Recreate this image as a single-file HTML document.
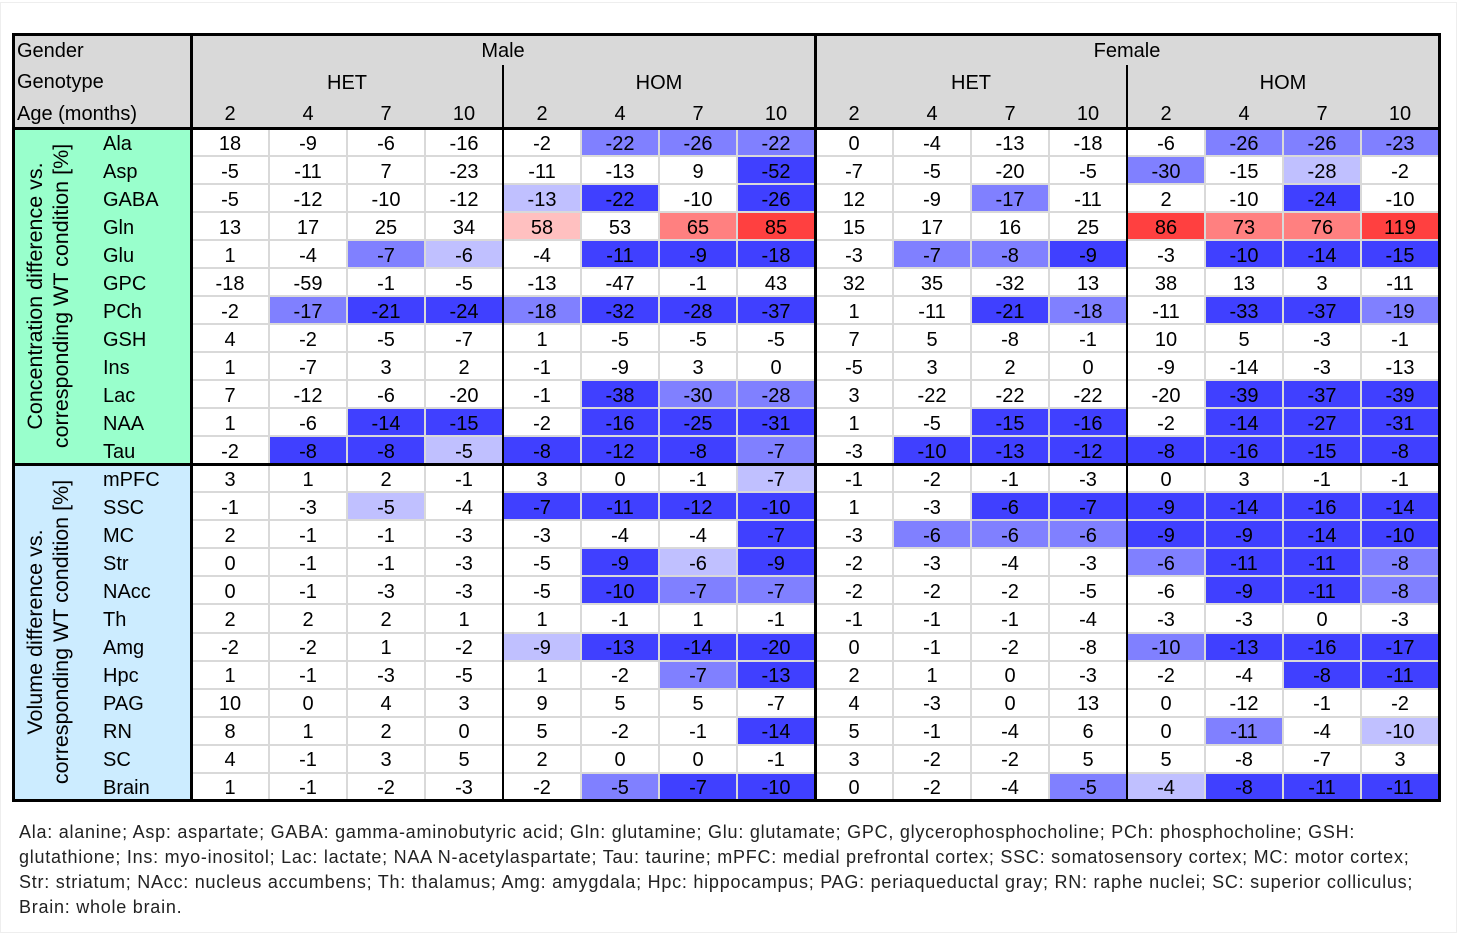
<!DOCTYPE html>
<html><head><meta charset="utf-8"><style>
body{margin:0;width:1459px;height:935px;background:#fff;position:relative;overflow:hidden;font-family:"Liberation Sans",sans-serif}
.c{position:absolute;box-sizing:border-box;display:flex;align-items:center;justify-content:center;font-size:20px;color:#000;padding-top:4px}
.ln{position:absolute;background:#000}
.gl{position:absolute;background:#d9d9d9}
#foot{position:absolute;left:19px;top:820px;font-size:18px;letter-spacing:0.75px;line-height:25px;color:#222;white-space:nowrap}
</style></head><body>
<div style="position:absolute;left:0;top:2px;width:1455px;height:929px;border:1px solid #eee"></div>
<div id="tbl"></div>
<div id="foot">Ala: alanine; Asp: aspartate; GABA: gamma-aminobutyric acid; Gln: glutamine; Glu: glutamate; GPC, glycerophosphocholine; PCh: phosphocholine; GSH:<br>glutathione; Ins: myo-inositol; Lac: lactate; NAA N-acetylaspartate; Tau: taurine; mPFC: medial prefrontal cortex; SSC: somatosensory cortex; MC: motor cortex;<br>Str: striatum; NAcc: nucleus accumbens; Th: thalamus; Amg: amygdala; Hpc: hippocampus; PAG: periaqueductal gray; RN: raphe nuclei; SC: superior colliculus;<br>Brain: whole brain.</div>
<script>
const ages=["2","4","7","10"];
const concLabels=["Ala","Asp","GABA","Gln","Glu","GPC","PCh","GSH","Ins","Lac","NAA","Tau"];
const volLabels=["mPFC","SSC","MC","Str","NAcc","Th","Amg","Hpc","PAG","RN","SC","Brain"];
const concValues=[
[18,-9,-6,-16,-2,-22,-26,-22,0,-4,-13,-18,-6,-26,-26,-23],
[-5,-11,7,-23,-11,-13,9,-52,-7,-5,-20,-5,-30,-15,-28,-2],
[-5,-12,-10,-12,-13,-22,-10,-26,12,-9,-17,-11,2,-10,-24,-10],
[13,17,25,34,58,53,65,85,15,17,16,25,86,73,76,119],
[1,-4,-7,-6,-4,-11,-9,-18,-3,-7,-8,-9,-3,-10,-14,-15],
[-18,-59,-1,-5,-13,-47,-1,43,32,35,-32,13,38,13,3,-11],
[-2,-17,-21,-24,-18,-32,-28,-37,1,-11,-21,-18,-11,-33,-37,-19],
[4,-2,-5,-7,1,-5,-5,-5,7,5,-8,-1,10,5,-3,-1],
[1,-7,3,2,-1,-9,3,0,-5,3,2,0,-9,-14,-3,-13],
[7,-12,-6,-20,-1,-38,-30,-28,3,-22,-22,-22,-20,-39,-37,-39],
[1,-6,-14,-15,-2,-16,-25,-31,1,-5,-15,-16,-2,-14,-27,-31],
[-2,-8,-8,-5,-8,-12,-8,-7,-3,-10,-13,-12,-8,-16,-15,-8]];
const concSig=[".....bbb.....bbb",".......c....b.a.","....ac.c..b...c.","....x.yz....zyyz","..ba.ccc.bbc.ccc","................",".bccbccc..cb.ccb","................","................",".....cbb.....ccc","..cc.ccc..cc.ccc",".ccacccb.ccccccc"];
const volValues=[
[3,1,2,-1,3,0,-1,-7,-1,-2,-1,-3,0,3,-1,-1],
[-1,-3,-5,-4,-7,-11,-12,-10,1,-3,-6,-7,-9,-14,-16,-14],
[2,-1,-1,-3,-3,-4,-4,-7,-3,-6,-6,-6,-9,-9,-14,-10],
[0,-1,-1,-3,-5,-9,-6,-9,-2,-3,-4,-3,-6,-11,-11,-8],
[0,-1,-3,-3,-5,-10,-7,-7,-2,-2,-2,-5,-6,-9,-11,-8],
[2,2,2,1,1,-1,1,-1,-1,-1,-1,-4,-3,-3,0,-3],
[-2,-2,1,-2,-9,-13,-14,-20,0,-1,-2,-8,-10,-13,-16,-17],
[1,-1,-3,-5,1,-2,-7,-13,2,1,0,-3,-2,-4,-8,-11],
[10,0,4,3,9,5,5,-7,4,-3,0,13,0,-12,-1,-2],
[8,1,2,0,5,-2,-1,-14,5,-1,-4,6,0,-11,-4,-10],
[4,-1,3,5,2,0,0,-1,3,-2,-2,5,5,-8,-7,3],
[1,-1,-2,-3,-2,-5,-7,-10,0,-2,-4,-5,-4,-8,-11,-11]];
const volSig=[".......a........","..a.cccc..cccccc",".......c.bbbcccc",".....cac....bccb",".....cbb.....ccb","................","....accc....bccc","......bc......cc","................",".......c.....b.a","................",".....bcc...baccc"];
</script>
<script>
const T=document.getElementById('tbl');
const COL={'.':'#ffffff','a':'#c0c0ff','b':'#8080ff','c':'#4040ff','x':'#ffc0c0','y':'#ff8080','z':'#ff4040'};
const X0=191,CW=78;
function colX(i){return X0+i*CW;}
function box(x,y,w,h,bg,txt,cls){const d=document.createElement('div');d.className=cls||'c';d.style.left=x+'px';d.style.top=y+'px';d.style.width=w+'px';d.style.height=h+'px';if(bg)d.style.background=bg;if(txt!==undefined)d.textContent=txt;T.appendChild(d);return d;}
let h=box(13,34,1426,94,'#d9d9d9');


let g=box(13,128,178,336,'#99ffcc');


let bl=box(13,464,178,337,'#ccecff');


[["Gender",49],["Genotype",80],["Age (months)",112]].forEach(([t,y])=>{const d=box(17,y-15,170,30,null,t);d.style.justifyContent='flex-start';

});
[["Male",0],["Female",8]].forEach(([t,i])=>{const d=box(colX(i),34,CW*8,31,null,t);

});
[0,4,8,12].forEach(i=>{const d=box(colX(i),65,CW*4,32,null,i%8==0?'HET':'HOM');

});
for(let i=0;i<16;i++){const d=box(colX(i),97,CW,31,null,ages[i%4]);

}
function section(vals,sig,labels,y0,rh,name){
 for(let r=0;r<vals.length;r++){
  const y=y0+r*rh;
  const l=box(103,y,88,rh,null,labels[r]);l.style.justifyContent='flex-start';
  
  
  for(let c=0;c<16;c++){
   const d=box(colX(c),y,CW,rh,COL[sig[r][c]]||'#fff',String(vals[r][c]));
   
   
  }
 }
 for(let r=1;r<vals.length;r++){const gg=box(X0,Math.round(y0+r*rh)-1,CW*16,2,null,undefined,'gl');
 
 }
 for(let c=1;c<16;c++){const gg=box(colX(c)-1,y0,2,rh*vals.length,null,undefined,'gl');
 
 }
}
section(concValues,concSig,concLabels,128,28,'concentration');
section(volValues,volSig,volLabels,464,337/12,'volume');
function vt(txt,cy,name){const d=document.createElement('div');d.className='c';d.style.cssText+='left:'+(48-170)+'px;top:'+(cy-27)+'px;width:340px;height:54px;transform:rotate(-90deg);text-align:center;line-height:26px;font-size:21.5px;padding-top:0;';d.innerHTML=txt;T.appendChild(d);

}
vt('Concentration difference vs.<br>corresponding WT condition [%]',296,'concentration-axis-title');
vt('Volume difference vs.<br>corresponding WT condition [%]',632,'volume-axis-title');
function L(x,y,w,hh){const d=box(x,y,w,hh,null,undefined,'ln');

}
L(12,33,1429,3);L(12,799,1429,3);L(12,33,3,769);L(1438,33,3,769);
L(12,127,1429,3);L(12,463,1429,3);
L(190,33,3,769);L(814,33,3,769);L(502,65,2,736);L(1126,65,2,736);
</script>
</body></html>
